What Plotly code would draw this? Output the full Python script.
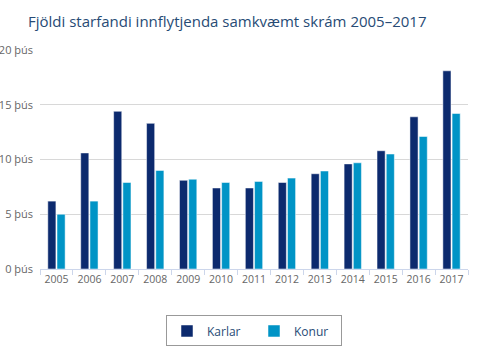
import plotly.graph_objects as go

years = ["2005", "2006", "2007", "2008", "2009", "2010", "2011", "2012", "2013", "2014", "2015", "2016", "2017"]
karlar = [6.2, 10.6, 14.4, 13.3, 8.1, 7.4, 7.4, 7.9, 8.7, 9.6, 10.8, 13.9, 18.1]
konur = [5.0, 6.2, 7.9, 9.0, 8.2, 7.9, 8.0, 8.3, 8.95, 9.7, 10.5, 12.1, 14.2]
y_ticks = [0, 5, 10, 15, 20]
y_labels = ["0 þús", "5 þús", "10 þús", "15 þús", "20 þús"]

fig = go.Figure()
fig.add_bar(x=years, y=karlar, name="Karlar", marker=dict(color="#0c2a6e", line=dict(color="white", width=0.5)))
fig.add_bar(x=years, y=konur, name="Konur", marker=dict(color="#0094c6", line=dict(color="white", width=0.5)))

fig.update_layout(
    width=500, height=349,
    margin=dict(l=40, r=32, t=50, b=80, autoexpand=False),
    paper_bgcolor="white", plot_bgcolor="white",
    font=dict(family="Open Sans", size=11, color="#666666"),
    title=dict(text="Fjöldi starfandi innflytjenda samkvæmt skrám 2005–2017",
               x=28/500, xanchor="left", y=1-22/349, yanchor="middle",
               font=dict(size=15, color="#274b75")),
    barmode="group", bargap=0.44, bargroupgap=0.12,
    showlegend=True,
    legend=dict(orientation="h", x=0.5, xanchor="center", y=-0.283, yanchor="middle",
                bordercolor="#999999", borderwidth=1, font=dict(size=12, color="#274b75"),
                itemwidth=30, entrywidth=42, entrywidthmode="pixels", tracegroupgap=0),
)
fig.update_xaxes(showline=True, linecolor="#ccd6eb", linewidth=1, ticks="outside",
                 tickson="boundaries", tickcolor="#ccd6eb", ticklen=5, showgrid=False,
                 tickangle=0, automargin=False,
                 tickfont=dict(size=10.5, color="#666666"))
fig.update_yaxes(range=[0, 20], tickvals=y_ticks, ticktext=y_labels, showgrid=True,
                 gridcolor="#d8d8d8", gridwidth=1, zeroline=False, showline=False,
                 automargin=False,
                 ticks="", ticklabelstandoff=6, tickfont=dict(size=11, color="#666666"))

fig.write_html("out.html")
